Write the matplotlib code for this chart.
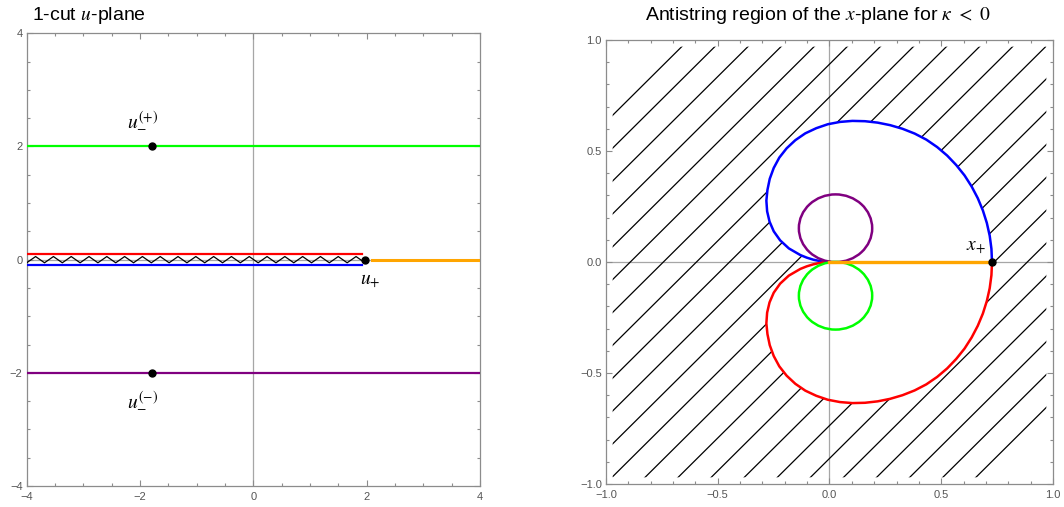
import numpy as np
import matplotlib.pyplot as plt
from matplotlib.patches import Ellipse, PathPatch
from matplotlib.path import Path
from matplotlib.ticker import MultipleLocator

plt.rcParams['font.family'] = ['Liberation Sans', 'DejaVu Sans']
plt.rcParams['mathtext.fontset'] = 'stix'

# ---- left panel: u-plane ----
green_y = 2.0
purple_y = -2.0
red_y = 0.1
blue_y = -0.1
cut_start, cut_end = -4.0, 1.92
u_plus = 1.97
u_minus_x = -1.79
orange_start = 2.09
n_teeth = 19

# ---- right panel: x-plane ----
# blue (upper) boundary, from the origin round to x_+
upper_x = [0, -0.026, -0.052, -0.0725, -0.1017, -0.1303, -0.1819, -0.2208, -0.2494, -0.2682,
           -0.2790, -0.2824, -0.2776, -0.2673, -0.2495, -0.2245, -0.1918, -0.1527, -0.1083, -0.0592,
           -0.0073, 0.047, 0.1026, 0.1588, 0.2152, 0.2714, 0.3268, 0.381, 0.433, 0.4815,
           0.5264, 0.5671, 0.6041, 0.6359, 0.6633, 0.686, 0.7038, 0.7167, 0.7244, 0.727]
upper_y = [0, 0.0015, 0.006, 0.0105, 0.0196, 0.0312, 0.0613, 0.0975, 0.1382, 0.182,
           0.2283, 0.2764, 0.3246, 0.3746, 0.4235, 0.4702, 0.5121, 0.5488, 0.5795, 0.6027,
           0.6206, 0.631, 0.6356, 0.6342, 0.6278, 0.6164, 0.6, 0.5785, 0.5513, 0.5178,
           0.4794, 0.4365, 0.39, 0.34, 0.2874, 0.2326, 0.176, 0.1181, 0.0593, 0]
# red (lower) boundary
lower_x = [0, -0.026, -0.052, -0.0725, -0.1017, -0.1303, -0.1819, -0.2208, -0.2494, -0.2682,
           -0.2790, -0.2824, -0.2776, -0.2673, -0.2495, -0.2245, -0.1918, -0.1527, -0.1083, -0.0592,
           -0.0073, 0.047, 0.1026, 0.1588, 0.2152, 0.2714, 0.3268, 0.381, 0.433, 0.4815,
           0.5264, 0.5671, 0.6041, 0.6359, 0.6633, 0.686, 0.7038, 0.7167, 0.7244, 0.727]
lower_y = [0, -0.0015, -0.006, -0.0105, -0.0196, -0.0312, -0.0613, -0.0975, -0.1382, -0.182,
           -0.2283, -0.2764, -0.3246, -0.3746, -0.4235, -0.4702, -0.5121, -0.5488, -0.5795, -0.6027,
           -0.6206, -0.631, -0.6356, -0.6342, -0.6278, -0.6164, -0.6, -0.5785, -0.5513, -0.5178,
           -0.4794, -0.4365, -0.39, -0.34, -0.2874, -0.2326, -0.176, -0.1181, -0.0593, 0]
purple_circle = (0.027, 0.152, 0.328, 0.305)   # cx, cy, width, height
green_circle = (0.027, -0.152, 0.328, 0.305)
x_plus = 0.727

frame_col = '#8c8c8c'
tick_col = '#555555'


def minus_fmt(fmt):
    return plt.FuncFormatter(lambda v, p: format(v, fmt).replace('-', '\u2212'))


def style(ax, lo, hi, major, minor, fmt):
    ax.set_xlim(lo, hi)
    ax.set_ylim(lo, hi)
    ax.xaxis.set_major_locator(MultipleLocator(major))
    ax.yaxis.set_major_locator(MultipleLocator(major))
    ax.xaxis.set_minor_locator(MultipleLocator(minor))
    ax.yaxis.set_minor_locator(MultipleLocator(minor))
    ax.xaxis.set_major_formatter(minus_fmt(fmt))
    ax.yaxis.set_major_formatter(minus_fmt(fmt))
    ax.tick_params(which='both', direction='in', top=True, right=True,
                   color=frame_col, labelsize=8, labelcolor=tick_col, width=0.8)
    ax.tick_params(axis='x', pad=4)
    ax.tick_params(axis='y', pad=3)
    ax.tick_params(which='major', length=4)
    ax.tick_params(which='minor', length=2)
    for s in ax.spines.values():
        s.set_color(frame_col)
        s.set_linewidth(0.9)
    ax.axhline(0, color='#a6a6a6', lw=0.9, zorder=1)
    ax.axvline(0, color='#a6a6a6', lw=0.9, zorder=1)


fig = plt.figure(figsize=(10.64, 5.07), dpi=100)
ax1 = fig.add_axes([0.0251, 0.0414, 0.4260, 0.8929])
ax2 = fig.add_axes([0.5695, 0.0454, 0.4202, 0.8757])

style(ax1, -4, 4, 2, 0.5, 'g')

ax1.plot([-4, 4], [green_y, green_y], color='#00ff00', lw=1.6, zorder=3)
ax1.plot([-4, 4], [purple_y, purple_y], color='#800080', lw=1.6, zorder=3)
ax1.plot([cut_start, cut_end], [red_y, red_y], color='#ff0000', lw=1.6, zorder=3)
ax1.plot([cut_start, cut_end], [blue_y, blue_y], color='#0000ff', lw=1.6, zorder=3)
ax1.plot([orange_start, 4], [0, 0], color='#ffa500', lw=2.2, zorder=3)

# branch cut drawn as a zigzag
zx = np.linspace(cut_start, u_plus, 2 * n_teeth + 1)
zy = np.where(np.arange(zx.size) % 2 == 0, -0.055, 0.055)
ax1.plot(zx, zy, color='black', lw=0.9, zorder=4)

ax1.plot([u_minus_x, u_minus_x, u_plus], [green_y, purple_y, 0], 'o', color='black',
         ms=5, zorder=5)
ax1.text(u_minus_x - 0.17, green_y + 0.46, r'$u_{-}^{(+)}$', fontsize=14, ha='center', va='center')
ax1.text(u_minus_x - 0.17, purple_y - 0.48, r'$u_{-}^{(-)}$', fontsize=14, ha='center', va='center')
ax1.text(u_plus + 0.1, -0.4, r'$u_{+}$', fontsize=14, ha='center', va='center')

# right panel
style(ax2, -1, 1, 0.5, 0.1, '.1f')

# hatch region: box minus the closed curve
curve = list(zip(upper_x, upper_y)) + list(zip(lower_x[::-1], lower_y[::-1]))[1:]
box = [(-0.97, -0.97), (0.97, -0.97), (0.97, 0.97), (-0.97, 0.97), (-0.97, -0.97)]
verts = box + curve + [curve[0]]
codes = ([Path.MOVETO] + [Path.LINETO] * 3 + [Path.CLOSEPOLY]
         + [Path.MOVETO] + [Path.LINETO] * (len(curve) - 1) + [Path.CLOSEPOLY])
region = PathPatch(Path(verts, codes), facecolor='none', edgecolor='none',
                   transform=ax2.transData)
ax2.add_patch(region)
for c in 1.631 - 0.148 * np.arange(23):
    ln, = ax2.plot([-1, 1], [-1 + c, 1 + c], color='black', lw=0.9, zorder=2)
    ln.set_clip_path(region)

ax2.plot(upper_x, upper_y, color='#0000ff', lw=1.8, zorder=3, solid_joinstyle='round')
ax2.plot(lower_x, lower_y, color='#ff0000', lw=1.8, zorder=3, solid_joinstyle='round')
for (cx, cy, w, h), col in [(purple_circle, '#800080'), (green_circle, '#00ff00')]:
    ax2.add_patch(Ellipse((cx, cy), w, h, facecolor='none', edgecolor=col, lw=1.8, zorder=3))
ax2.plot([0, x_plus], [0, 0], color='#ffa500', lw=2.4, zorder=4)
ax2.plot([x_plus], [0], 'o', color='black', ms=5, zorder=5)
ax2.text(x_plus - 0.07, 0.06, r'$x_{+}$', fontsize=14, ha='center', va='center')

fig.text(0.030, 0.970, r'1-cut $u$-plane', fontsize=14, va='center', ha='left')
fig.text(0.606, 0.970, r'Antistring region of the $x$-plane for $\kappa\ <\ 0$',
         fontsize=14, va='center', ha='left')

fig.savefig('out.png', dpi=100)
